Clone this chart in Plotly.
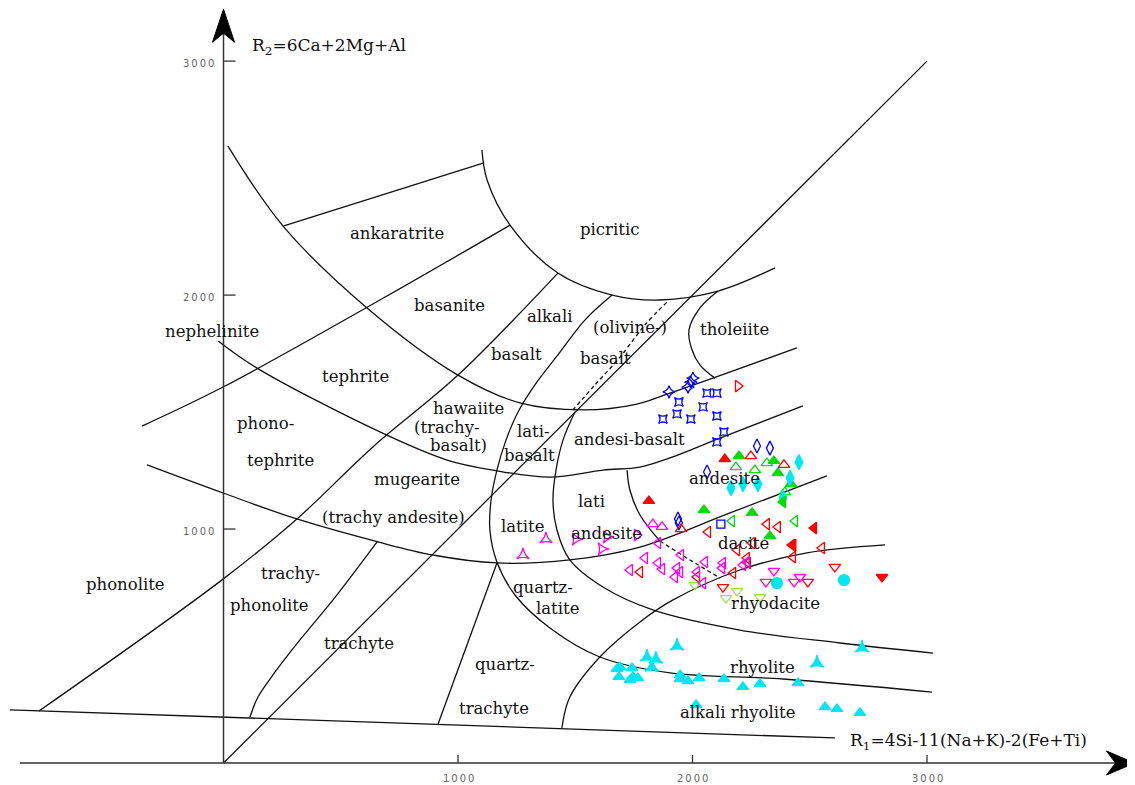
import plotly.graph_objects as go

# ---------------- Boundary curves (R1, R2) ----------------
base_r1 = [-910, 2607]; base_r2 = [227, 107]
phon_r1 = [-787, -2, 313, 637, 1000, 1426]; phon_r2 = [222, 786, 1043, 1351, 1658, 2094]
neph_r1 = [-348, -2, 667, 1222]; neph_r2 = [1440, 1607, 1979, 2299]
ankar_r1 = [254, 1107]; ankar_r2 = [2295, 2564]
c1_r1 = [19, 254, 612, 1000, 1264, 1533, 1763, 1904, 2087, 2445]
c1_r2 = [2637, 2295, 1945, 1658, 1539, 1509, 1534, 1581, 1645, 1774]
pic_r1 = [1102, 1124, 1222, 1426, 1657, 1861, 2109, 2352]
pic_r2 = [2620, 2492, 2299, 2094, 2000, 1979, 2017, 2116]
diag_r1 = [0, 3000]; diag_r2 = [0, 3000]
l5_r1 = [1657, 1541, 1426, 1328, 1256, 1205, 1166, 1141, 1136, 1166, 1243, 1392, 1605, 1904, 2386, 3021]
l5_r2 = [2000, 1893, 1744, 1616, 1500, 1381, 1252, 1124, 996, 859, 718, 577, 453, 385, 359, 303]
c6_r1 = [1499, 1448, 1418, 1405, 1422, 1477, 1618, 1831, 2202, 2629, 3025]
c6_r2 = [1500, 1381, 1252, 1124, 996, 868, 752, 654, 568, 513, 470]
c7_r1 = [1721, 1733, 1776, 1861]; c7_r2 = [1252, 1167, 1060, 949]
c7d_r1 = [1861, 1989, 2117]; c7d_r2 = [949, 868, 791]
c3_r1 = [-23, 143, 667, 953, 1149, 1392, 1618, 1776, 1904, 2117, 2471]
c3_r2 = [1804, 1688, 1415, 1295, 1252, 1222, 1252, 1265, 1304, 1389, 1526]
c4_r1 = [-326, -2, 313, 659, 893, 1166, 1477, 1776, 2160, 2573]
c4_r2 = [1274, 1154, 1043, 945, 889, 855, 868, 923, 1069, 1227]
c5_r1 = [1443, 1477, 1605, 1776, 1917, 2202, 2488, 2821]
c5_r2 = [150, 282, 453, 603, 697, 825, 898, 932]
l6_r1 = [113, 147, 220, 326, 467, 655]; l6_r2 = [197, 282, 389, 526, 697, 945]
l7_r1 = [915, 1166]; l7_r2 = [167, 855]
thol_r1 = [2109, 2032, 1985, 1998, 2032, 2096]; thol_r2 = [2017, 1945, 1851, 1765, 1701, 1645]
olv_r1 = [1891, 1797, 1691, 1584, 1490]; olv_r2 = [1970, 1872, 1735, 1616, 1509]

# ---------------- Samples (R1, R2) ----------------
blue_sq4_r1 = [1942, 2062, 2104, 1874, 1934, 1993, 2045, 2104, 2134, 2104]
blue_sq4_r2 = [1543, 1581, 1581, 1470, 1492, 1470, 1522, 1483, 1415, 1372]
blue_star4_r1 = [1900, 1981, 1993, 2002]; blue_star4_r2 = [1586, 1607, 1628, 1645]
blue_dia_r1 = [2275, 2330, 2062, 1938, 1942]; blue_dia_r2 = [1355, 1346, 1244, 1043, 1026]
blue_box_r1 = [2121]; blue_box_r2 = [1021]
red_right_open_r1 = [2194]; red_right_open_r2 = [1611]
red_up_fill_r1 = [2138, 1814]; red_up_fill_r2 = [1299, 1120]
green_up_fill_r1 = [2198, 2347, 2364, 2420, 2049, 2254, 2330]
green_up_fill_r2 = [1312, 1291, 1239, 1192, 1081, 1069, 970]
red_up_open_r1 = [2249, 2390, 1951]; red_up_open_r2 = [1312, 1274, 1000]
green_up_open_r1 = [2185, 2266, 2317, 2394]; green_up_open_r2 = [1265, 1252, 1282, 1158]
cyan_dia_r1 = [2454, 2164, 2215, 2279, 2416, 2386]; cyan_dia_r2 = [1286, 1175, 1192, 1192, 1218, 1133]
green_left_fill_r1 = [2386]; green_left_fill_r2 = [1116]
green_left_open_r1 = [2168, 2437]; green_left_open_r2 = [1034, 1034]
mag_up_open_r1 = [1831, 1870]; mag_up_open_r2 = [1021, 1009]
red_left_open_r1 = [2066, 2317, 2364, 2190, 2254, 2424, 2552, 2428, 2232, 2236, 2173, 2019, 1776]
red_left_open_r2 = [987, 1021, 1009, 910, 940, 932, 919, 880, 876, 855, 812, 795, 816]
red_left_fill_r1 = [2518, 2430]; red_left_fill_r2 = [1004, 932]
red_down_open_r1 = [2130, 2492, 2607]; red_down_open_r2 = [752, 774, 838]
red_down_fill_r1 = [2808]; red_down_fill_r2 = [795]
cyan_circle_r1 = [2360, 2646]; cyan_circle_r2 = [769, 782]
mag_down_open_r1 = [2347, 2313, 2433, 2458]; mag_down_open_r2 = [821, 774, 774, 795]
lgreen_down_open_r1 = [2010, 2190, 2143, 2288]; lgreen_down_open_r2 = [761, 735, 705, 709]
mag_left_open_r1 = [1733, 1797, 1853, 1951, 1853, 1870, 1934, 1947, 1925, 2019, 2053, 2045, 2130, 2126, 2232, 2215]
mag_left_open_r2 = [825, 876, 940, 889, 855, 829, 833, 816, 795, 816, 859, 769, 855, 833, 859, 846]
mag_right_open_r1 = [1763]; mag_right_open_r2 = [974]
mag_startri_r1 = [1375, 1277]; mag_startri_r2 = [957, 889]
mag_startri_right_r1 = [1503, 1614, 1635]; mag_startri_right_r2 = [957, 915, 966]
cyan_startri_r1 = [1934, 1806, 1844, 1827, 2723, 2531]; cyan_startri_r2 = [500, 453, 444, 410, 492, 427]
cyan_up_r1 = [1678, 1691, 1686, 1742, 1746, 1767, 1733, 1947, 1947, 1981, 2028, 2134, 2215, 2288, 2450, 2015, 2565, 2616, 2714]
cyan_up_r2 = [402, 410, 368, 406, 368, 363, 355, 376, 359, 350, 363, 359, 325, 338, 342, 248, 239, 231, 214]

# ---------------- Field names ----------------
label_text = ["ankaratrite", "picritic", "basanite", "alkali", "(olivine-)", "tholeiite", "nephelinite",
              "basalt", "basalt", "tephrite", "phono-", "hawaiite", "(trachy-", "basalt)", "lati-", "basalt",
              "andesi-basalt", "tephrite", "mugearite", "andesite", "lati", "(trachy andesite)", "latite",
              "andesite", "dacite", "phonolite", "trachy-", "phonolite", "quartz-", "latite", "rhyodacite",
              "trachyte", "quartz-", "rhyolite", "trachyte", "alkali rhyolite"]
label_r1 = [740, 1644, 962, 1392, 1733, 2181, -49, 1251, 1631, 561, 177, 1043, 953, 1000, 1320, 1307,
            1733, 241, 825, 2138, 1571, 723, 1273, 1635, 2219, -416, 284, 194, 1362, 1426, 2352,
            578, 1200, 2300, 1153, 2194]
label_r2 = [2265, 2282, 1957, 1910, 1863, 1851, 1846, 1748, 1731, 1650, 1449, 1517, 1432, 1359, 1415, 1316,
            1381, 1291, 1210, 1214, 1116, 1051, 1013, 983, 940, 765, 812, 675, 752, 662, 680,
            509, 419, 410, 235, 218]

x_ticks = [1000, 2000, 3000]
y_ticks = [1000, 2000, 3000]

fig = go.Figure()

def curve(xs, ys, dash="solid", spline=True):
    fig.add_trace(go.Scatter(x=xs, y=ys, mode="lines",
                             line=dict(color="#111111", width=1.3, dash=dash,
                                       shape="spline" if spline else "linear", smoothing=1.0),
                             hoverinfo="skip", showlegend=False))

for xs, ys in [(base_r1, base_r2), (ankar_r1, ankar_r2), (diag_r1, diag_r2), (l7_r1, l7_r2)]:
    curve(xs, ys, spline=False)
for xs, ys in [(phon_r1, phon_r2), (neph_r1, neph_r2), (c1_r1, c1_r2), (pic_r1, pic_r2), (l5_r1, l5_r2),
               (c6_r1, c6_r2), (c7_r1, c7_r2), (c3_r1, c3_r2), (c4_r1, c4_r2), (c5_r1, c5_r2),
               (l6_r1, l6_r2), (thol_r1, thol_r2)]:
    curve(xs, ys)
curve(olv_r1, olv_r2, dash="4px,3px")
curve(c7d_r1, c7d_r2, dash="4px,3px")

BLUE = "#0000ff"; RED = "#ff0000"; GREEN = "#00dd00"; CYAN = "#00e6f2"; MAG = "#ff00ff"; LGREEN = "#9be35a"

def pts(xs, ys, symbol, color, size=10, angle=0):
    fig.add_trace(go.Scatter(x=xs, y=ys, mode="markers",
                             marker=dict(symbol=symbol, color=color, size=size, angle=angle,
                                         line=dict(color=color, width=1.3)),
                             hoverinfo="skip", showlegend=False))

pts(blue_sq4_r1, blue_sq4_r2, "star-square-open", BLUE, 8)
pts(blue_star4_r1, blue_star4_r2, "star-diamond-open", BLUE, 9)
pts(blue_dia_r1, blue_dia_r2, "diamond-tall-open", BLUE, 10)
pts(blue_box_r1, blue_box_r2, "square-open", BLUE, 8)
pts(red_right_open_r1, red_right_open_r2, "triangle-right-open", RED, 10)
pts(red_up_fill_r1, red_up_fill_r2, "triangle-up", RED, 10)
pts(green_up_fill_r1, green_up_fill_r2, "triangle-up", GREEN, 10)
pts(red_up_open_r1, red_up_open_r2, "triangle-up-open", RED, 10)
pts(green_up_open_r1, green_up_open_r2, "triangle-up-open", GREEN, 10)
pts(cyan_dia_r1, cyan_dia_r2, "diamond-tall", CYAN, 11)
pts(green_left_fill_r1, green_left_fill_r2, "triangle-left", GREEN, 10)
pts(green_left_open_r1, green_left_open_r2, "triangle-left-open", GREEN, 10)
pts(mag_up_open_r1, mag_up_open_r2, "triangle-up-open", MAG, 10)
pts(red_left_open_r1, red_left_open_r2, "triangle-left-open", RED, 10)
pts(red_left_fill_r1, red_left_fill_r2, "triangle-left", RED, 10)
pts(red_down_open_r1, red_down_open_r2, "triangle-down-open", RED, 10)
pts(red_down_fill_r1, red_down_fill_r2, "triangle-down", RED, 10)
pts(cyan_circle_r1, cyan_circle_r2, "circle", CYAN, 11)
pts(mag_down_open_r1, mag_down_open_r2, "triangle-down-open", MAG, 10)
pts(lgreen_down_open_r1, lgreen_down_open_r2, "triangle-down-open", LGREEN, 10)
pts(mag_left_open_r1, mag_left_open_r2, "triangle-left-open", MAG, 10)
pts(mag_right_open_r1, mag_right_open_r2, "triangle-right-open", MAG, 10)
pts(mag_startri_r1, mag_startri_r2, "star-triangle-up-open", MAG, 9)
pts(mag_startri_right_r1, mag_startri_right_r2, "star-triangle-up-open", MAG, 9, angle=90)
pts(cyan_startri_r1, cyan_startri_r2, "star-triangle-up", CYAN, 10)
pts(cyan_up_r1, cyan_up_r2, "triangle-up", CYAN, 10)

# ---------------- Axes drawn by hand ----------------
AX = "#333333"
shapes = [
    dict(type="line", xref="x", yref="y", x0=-868, y0=0, x1=3860, y1=0, line=dict(color=AX, width=1.5)),
    dict(type="line", xref="x", yref="y", x0=0, y0=0, x1=0, y1=3200, line=dict(color=AX, width=1.5)),
    dict(type="path", xref="x", yref="y", xsizemode="pixel", ysizemode="pixel", xanchor=3885, yanchor=0,
         path="M0,0 L-28,12 L-19,0 L-28,-12 Z", fillcolor="#000000", line=dict(color="#000000", width=1)),
    dict(type="path", xref="x", yref="y", xsizemode="pixel", ysizemode="pixel", xanchor=0, yanchor=3222,
         path="M0,0 L11,-33 L0,-24 L-11,-33 Z", fillcolor="#000000", line=dict(color="#000000", width=1)),
]
for t in x_ticks:
    shapes.append(dict(type="line", xref="x", yref="y", ysizemode="pixel", yanchor=0, x0=t, x1=t, y0=0, y1=8,
                       line=dict(color=AX, width=1.3)))
for t in y_ticks:
    shapes.append(dict(type="line", xref="x", yref="y", xsizemode="pixel", xanchor=0, x0=0, x1=12, y0=t, y1=t,
                       line=dict(color=AX, width=1.3)))

def spaced(v):
    return "\u2009".join(str(v))

ann = []
TICKF = dict(family="DejaVu Sans", size=10, color="#666666")
for t in x_ticks:
    ann.append(dict(x=t, y=0, xref="x", yref="y", text=spaced(t), showarrow=False, yshift=-15, font=TICKF))
for t in y_ticks:
    ann.append(dict(x=0, y=t, xref="x", yref="y", text=spaced(t), showarrow=False, xanchor="right", xshift=-8,
                    yshift=-2, font=TICKF))
LABF = dict(family="DejaVu Serif", size=16.5, color="#111111")
for s, x, y in zip(label_text, label_r1, label_r2):
    ann.append(dict(x=x, y=y, xref="x", yref="y", text=s, showarrow=False, font=LABF))
AXF = dict(family="DejaVu Serif", size=17, color="#111111")
ann.append(dict(x=113, y=3064, xref="x", yref="y", text="R<sub>2</sub>=6Ca+2Mg+Al", showarrow=False,
                xanchor="left", font=AXF))
ann.append(dict(x=2663, y=90, xref="x", yref="y", text="R<sub>1</sub>=4Si-11(Na+K)-2(Fe+Ti)", showarrow=False,
                xanchor="left", font=AXF))

# the page body adds an 8 px margin, so the figure covers screen pixels 8..1135 and 8..785
fig.update_layout(
    width=1127, height=777, margin=dict(l=0, r=0, t=0, b=0),
    paper_bgcolor="white", plot_bgcolor="white", showlegend=False,
    xaxis=dict(visible=False, range=[-919, 3887], fixedrange=True),
    yaxis=dict(visible=False, range=[-94, 3227], fixedrange=True),
    shapes=shapes, annotations=ann,
)
fig.write_html("out.html")
